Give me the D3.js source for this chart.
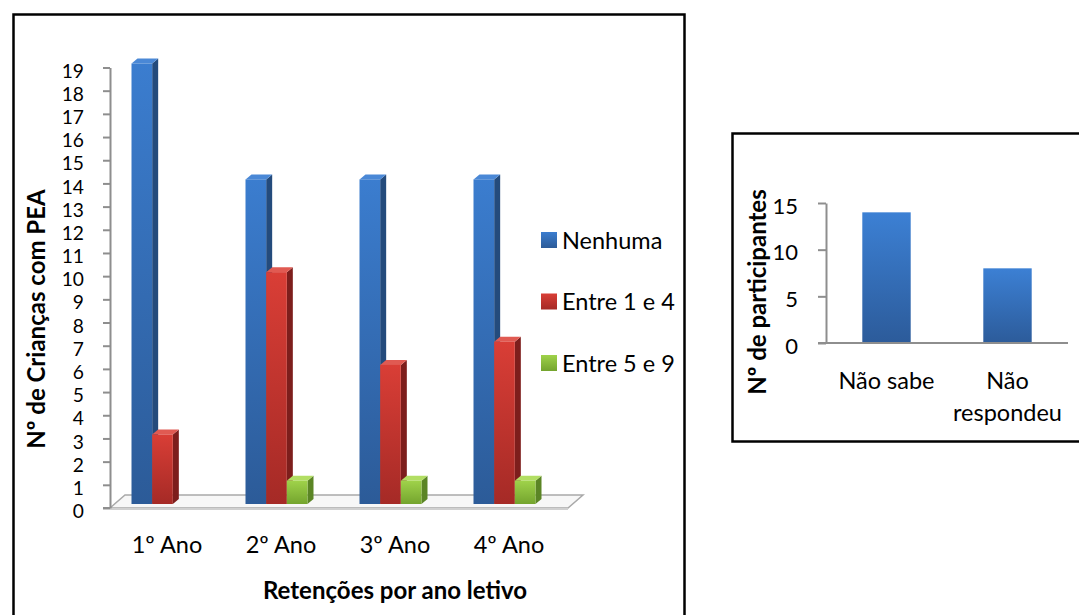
<!DOCTYPE html>
<html>
<head>
<meta charset="utf-8">
<script src="https://cdn.jsdelivr.net/npm/d3@7"></script>
<style>
  html, body { margin: 0; padding: 0; background: #fff; }
  svg { display: block; font-family: Lato, "Open Sans", sans-serif; }
</style>
</head>
<body>
<svg id="chart" width="1079" height="615"></svg>
<script>
// Retenções por ano letivo (3D clustered columns)
const years = ["1º Ano", "2º Ano", "3º Ano", "4º Ano"];
const seriesNames = ["Nenhuma", "Entre 1 e 4", "Entre 5 e 9"];
const nenhuma = [19, 14, 14, 14];
const entre1e4 = [3, 10, 6, 7];
const entre5e9 = [0, 1, 1, 1];
const leftTicks = d3.range(0, 20);

// Second panel: participants who do not know / did not answer
const answers = [["Não sabe"], ["Não", "respondeu"]];
const answerValues = [14, 8];
const rightTicks = [0, 5, 10, 15];

const TEXT = 23.5, TICK = 22, TICK_DENSE = 19.2, TITLE = 24;

const svg = d3.select("#chart");
const defs = svg.append("defs");

function vGrad(id, top, bottom) {
  const g = defs.append("linearGradient").attr("id", id)
    .attr("x1", 0).attr("y1", 0).attr("x2", 0).attr("y2", 1);
  g.append("stop").attr("offset", "0%").attr("stop-color", top);
  g.append("stop").attr("offset", "100%").attr("stop-color", bottom);
}
const palette = [
  { front: ["#3b7dcf", "#2c5b98"], side: "#244b7c", top: "#4a88d6" },
  { front: ["#d93e36", "#a52a26"], side: "#7d1e1c", top: "#e05a52" },
  { front: ["#9fd24a", "#74a42e"], side: "#5b8525", top: "#b2de63" }
];
palette.forEach((p, i) => vGrad("front" + i, p.front[0], p.front[1]));
vGrad("flatBlue", "#3c80d4", "#2c5b9a");

// ---------- panel frames ----------
svg.append("rect").attr("x", 13.5).attr("y", 14.5).attr("width", 671).attr("height", 640)
  .attr("fill", "none").attr("stroke", "#000").attr("stroke-width", 2.5);
svg.append("rect").attr("x", 732.5).attr("y", 133.5).attr("width", 360).attr("height", 308)
  .attr("fill", "none").attr("stroke", "#000").attr("stroke-width", 2.5);

// ---------- left chart ----------
const L = svg.append("g");
const y = d3.scaleLinear().domain([0, 19]).range([508, 67.5]);
const x0 = d3.scaleBand().domain(years).range([105.5, 561.5]);
const x1 = d3.scaleBand().domain(seriesNames).range([0, 62]);
const depthX = 6, depthY = -5, lift = 4;
const floorBackX = 15, floorBackY = -13;

// floor
const floorFront = [110, 568];
L.append("path")
  .attr("d", `M${floorFront[0]},${y(0)} L${floorFront[1]},${y(0)} L${floorFront[1] + floorBackX},${y(0) + floorBackY} L${floorFront[0] + floorBackX},${y(0) + floorBackY} Z`)
  .attr("fill", "#f7f7f7").attr("stroke", "#a9a9a9").attr("stroke-width", 1.5);
L.append("line").attr("x1", floorFront[0]).attr("x2", floorFront[1])
  .attr("y1", y(0) + 1).attr("y2", y(0) + 1).attr("stroke", "#d0d0d0").attr("stroke-width", 2);

// y axis
const yAxis = L.append("g").attr("transform", "translate(110,0)")
  .call(d3.axisLeft(y).tickValues(leftTicks).tickSize(7).tickPadding(19).tickSizeOuter(0));
yAxis.select(".domain").attr("stroke", "#8e8e8e").attr("stroke-width", 2);
yAxis.selectAll(".tick line").attr("stroke", "#8e8e8e").attr("stroke-width", 2);
yAxis.selectAll(".tick text").attr("font-size", TICK_DENSE).attr("fill", "#000")
  .attr("font-family", "Lato, sans-serif").attr("dy", "0.5em");
L.append("line").attr("x1", 103).attr("x2", floorFront[0]).attr("y1", y(0)).attr("y2", y(0))
  .attr("stroke", "#8e8e8e").attr("stroke-width", 2);

// bars
const series = [nenhuma, entre1e4, entre5e9];
years.forEach((yr, gi) => {
  seriesNames.forEach((sn, si) => {
    const v = series[si][gi];
    const bx = x0(yr) + (x0.bandwidth() - 62) / 2 + x1(sn);
    const w = x1.bandwidth();
    const top = y(v) - lift, bot = y(0) - lift;
    const p = palette[si];
    const g = L.append("g");
    if (v > 0) {
      g.append("path")
        .attr("d", `M${bx + w},${top} L${bx + w + depthX},${top + depthY} L${bx + w + depthX},${bot + depthY} L${bx + w},${bot} Z`)
        .attr("fill", p.side);
      g.append("path")
        .attr("d", `M${bx},${top} L${bx + depthX},${top + depthY} L${bx + w + depthX},${top + depthY} L${bx + w},${top} Z`)
        .attr("fill", p.top);
    }
    g.append("rect").attr("x", bx).attr("y", top).attr("width", w).attr("height", bot - top)
      .attr("fill", `url(#front${si})`);
  });
});

// category labels
L.selectAll(".cat").data(years).join("text")
  .attr("x", d => x0(d) + x0.bandwidth() / 2 + 4.5).attr("y", 553)
  .attr("text-anchor", "middle").attr("font-size", TEXT).text(d => d);

// axis titles
L.append("text").attr("x", 395).attr("y", 599).attr("text-anchor", "middle")
  .attr("font-size", TITLE).attr("font-weight", "bold").text("Retenções por ano letivo");
L.append("text").attr("transform", "translate(45,319) rotate(-90)").attr("text-anchor", "middle")
  .attr("font-size", TITLE).attr("font-weight", "bold").text("Nº de Crianças com PEA");

// legend
const legend = L.append("g");
seriesNames.forEach((sn, i) => {
  const ly = 240 + i * 61.5;
  legend.append("rect").attr("x", 541).attr("y", ly - 8).attr("width", 16).attr("height", 16)
    .attr("fill", `url(#front${i})`);
  legend.append("text").attr("x", 562).attr("y", ly + 8.5).attr("font-size", TEXT).text(sn);
});

// ---------- right chart ----------
const R = svg.append("g");
const yr2 = d3.scaleLinear().domain([0, 15]).range([343, 203]);
const xr2 = d3.scaleBand().domain(answers.map(a => a.join(" "))).range([826, 1068]).paddingInner(0.6).paddingOuter(0.3);

const yAxis2 = R.append("g").attr("transform", "translate(826,0)")
  .call(d3.axisLeft(yr2).tickValues(rightTicks).tickSize(8).tickPadding(20).tickSizeOuter(0));
yAxis2.select(".domain").attr("stroke", "#8e8e8e").attr("stroke-width", 2);
yAxis2.selectAll(".tick line").attr("stroke", "#8e8e8e").attr("stroke-width", 2);
yAxis2.selectAll(".tick text").attr("font-size", TICK).attr("fill", "#000")
  .attr("font-family", "Lato, sans-serif").attr("dy", "0.46em");

R.selectAll(".bar2").data(answerValues).join("rect")
  .attr("x", (d, i) => xr2(answers[i].join(" ")))
  .attr("y", d => yr2(d))
  .attr("width", xr2.bandwidth())
  .attr("height", d => yr2(0) - yr2(d))
  .attr("fill", "url(#flatBlue)");

R.append("line").attr("x1", 818).attr("x2", 1068).attr("y1", yr2(0)).attr("y2", yr2(0))
  .attr("stroke", "#8e8e8e").attr("stroke-width", 2);

answers.forEach((lines, i) => {
  const cx = xr2(lines.join(" ")) + xr2.bandwidth() / 2;
  const t = R.append("text").attr("text-anchor", "middle").attr("font-size", TEXT);
  lines.forEach((ln, k) => t.append("tspan").attr("x", cx).attr("y", 389 + k * 32).text(ln));
});

R.append("text").attr("transform", "translate(766,292) rotate(-90)").attr("text-anchor", "middle")
  .attr("font-size", TITLE).attr("font-weight", "bold").text("Nº de participantes");
</script>
</body>
</html>
